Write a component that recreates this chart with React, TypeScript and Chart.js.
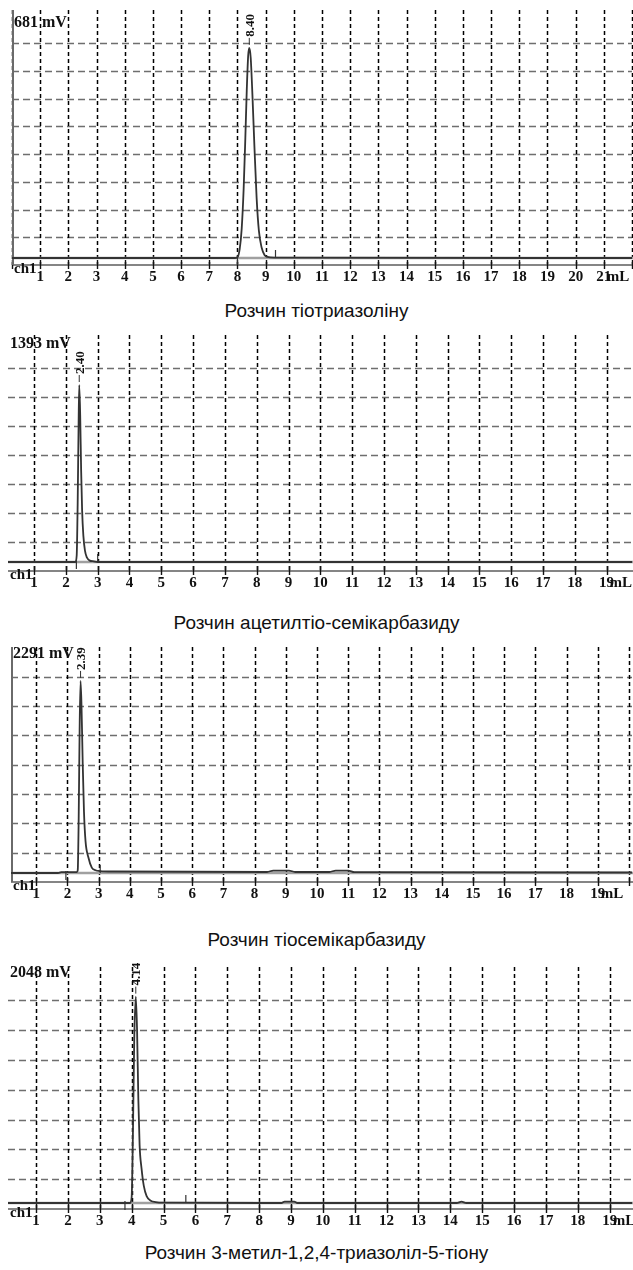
import React, { useEffect, useRef } from "react";
import { Chart, registerables } from "chart.js";

Chart.register(...registerables);

// ---------- DATA ----------
// Chart 1: Розчин тіотриазоліну (retention, mL / signal, mV)
const c1Times = [0, 7.9, 8.0, 8.08, 8.15, 8.22, 8.28, 8.33, 8.38, 8.42, 8.47, 8.53, 8.6, 8.68, 8.76, 8.86, 8.96, 9.06, 9.3, 22];
const c1Signal = [0, 0, 2, 25, 80, 190, 330, 460, 555, 577, 550, 450, 310, 165, 75, 28, 8, 3, 1, 0];

// Chart 2: Розчин ацетилтіо-семікарбазиду
const c2Times = [0.18, 2.3, 2.34, 2.37, 2.4, 2.42, 2.45, 2.48, 2.51, 2.55, 2.6, 2.66, 2.74, 2.88, 3.0, 19.8];
const c2Signal = [0, 0, 40, 350, 850, 1086, 900, 560, 320, 160, 70, 28, 10, 4, 0, 0];

// Chart 3: Розчин тіосемікарбазиду
const c3Times = [0.19, 1.7, 1.8, 2.3, 2.33, 2.36, 2.39, 2.42, 2.45, 2.49, 2.53, 2.58, 2.67, 2.78, 2.9, 3.05, 3.5, 8.4, 8.6, 9.1, 9.3, 10.4, 10.6, 11.0, 11.2, 20.1];
const c3Signal = [0, 0, 8, 8, 30, 550, 1450, 1947, 1700, 1100, 620, 320, 160, 55, 28, 20, 15, 10, 25, 25, 10, 10, 25, 25, 8, 5];

// Chart 4: Розчин 3-метил-1,2,4-триазоліл-5-тіону
const c4Times = [0.12, 3.95, 4.0, 4.04, 4.08, 4.13, 4.17, 4.21, 4.25, 4.31, 4.38, 4.47, 4.6, 4.75, 5.0, 8.7, 8.8, 9.1, 9.2, 14.2, 14.35, 14.5, 19.7];
const c4Signal = [0, 0, 50, 600, 1400, 1791, 1500, 900, 500, 300, 150, 60, 20, 8, 3, 0, 12, 12, 0, 0, 12, 0, 0];

const captions = [
  "Розчин тіотриазоліну",
  "Розчин ацетилтіо-семікарбазиду",
  "Розчин тіосемікарбазиду",
  "Розчин 3-метил-1,2,4-триазоліл-5-тіону",
];
const fullScaleLabels = ["681 mV", "1393 mV", "2291 mV", "2048 mV"];
const fullScaleValues = [681, 1393, 2291, 2048];
const peakLabels = ["8.40", "2.40", "2.39", "4.14"];
const peakStarts = [8.0, 2.33, 1.95, 3.79];
const peakEnds = [9.35, 3.0, 3.05, 5.7];
const xTicks21 = [1, 2, 3, 4, 5, 6, 7, 8, 9, 10, 11, 12, 13, 14, 15, 16, 17, 18, 19, 20, 21];
const xTicks19 = [1, 2, 3, 4, 5, 6, 7, 8, 9, 10, 11, 12, 13, 14, 15, 16, 17, 18, 19];
const xUnit = "mL";
const channelLabel = "ch1";

const seriesTimes = [c1Times, c2Times, c3Times, c4Times];
const seriesSignal = [c1Signal, c2Signal, c3Signal, c4Signal];
const seriesTicks = [xTicks21, xTicks19, xTicks19, xTicks19];

// ---------- LAYOUT (positions / styles) ----------
const layouts = [
  { top: 0, height: 292, plotTop: 10, axis: 265, base: 258, left: 12, right: 632, xMin: 0, xMax: 22, div: 9.2, gridCount: 8, leftAxis: true, labelDy: 17 },
  { top: 325, height: 272, plotTop: 335, axis: 571, base: 562, left: 8, right: 632, xMin: 0.18, xMax: 19.8, div: 8.14, gridCount: 7, leftAxis: false, labelDy: 13 },
  { top: 637, height: 271, plotTop: 647, axis: 882, base: 873, left: 11, right: 632, xMin: 0.19, xMax: 20.1, div: 8.02, gridCount: 7, leftAxis: true, labelDy: 11 },
  { top: 957, height: 278, plotTop: 967, axis: 1209, base: 1203, left: 8, right: 632, xMin: 0.12, xMax: 19.7, div: 8.12, gridCount: 7, leftAxis: false, labelDy: 10 },
];
const captionTops = [301, 613, 930, 1243];
const SERIF = '"Liberation Serif", "Times New Roman", "DejaVu Serif", serif';
const SANS = '"Liberation Sans", Arial, "DejaVu Sans", sans-serif';

function Chromatogram({ idx }: { idx: number }) {
  const ref = useRef<HTMLCanvasElement | null>(null);
  const L = layouts[idx];
  useEffect(() => {
    if (!ref.current) return;
    const full = fullScaleValues[idx];
    const mvPerPx = full / (L.base - L.plotTop);
    const yMin = -(L.axis - L.base) * mvPerPx;
    const yMax = full;
    const times = seriesTimes[idx];
    const sig = seriesSignal[idx];
    const ticks = seriesTicks[idx];
    let pk = 0;
    sig.forEach((v, i) => { if (v > sig[pk]) pk = i; });

    const plugin = {
      id: "chromGrid" + idx,
      beforeDatasetsDraw(chart: any) {
        const { ctx, chartArea: a, scales } = chart;
        const x = scales.x, y = scales.y;
        ctx.save();
        // horizontal dashed grid
        ctx.strokeStyle = "#6e6e6e";
        ctx.lineWidth = 1.6;
        ctx.setLineDash([7, 4]);
        for (let k = 1; k <= L.gridCount; k++) {
          const v = yMin + (k * (yMax - yMin)) / L.div;
          const py = Math.round(y.getPixelForValue(v)) + 0.5;
          ctx.beginPath();
          ctx.moveTo(a.left, py);
          ctx.lineTo(a.right, py);
          ctx.stroke();
        }
        // vertical dotted grid
        ctx.strokeStyle = "#000";
        ctx.lineWidth = 1.5;
        ctx.setLineDash([4, 3]);
        for (let i = Math.ceil(L.xMin); i <= Math.floor(L.xMax); i++) {
          const px = Math.round(x.getPixelForValue(i)) + 0.5;
          ctx.beginPath();
          ctx.moveTo(px, a.top);
          ctx.lineTo(px, a.bottom);
          ctx.stroke();
        }
        ctx.setLineDash([]);
        // baseline
        const y0 = y.getPixelForValue(0);
        ctx.strokeStyle = "#a0a0a0";
        ctx.lineWidth = 2.5;
        ctx.beginPath();
        ctx.moveTo(a.left, y0);
        ctx.lineTo(a.right + 1, y0);
        ctx.stroke();
        // axis line
        ctx.strokeStyle = "#858585";
        ctx.lineWidth = 2.2;
        ctx.beginPath();
        ctx.moveTo(a.left, a.bottom);
        ctx.lineTo(a.right + 1, a.bottom);
        ctx.stroke();
        // tick marks
        ctx.strokeStyle = "#111";
        ctx.lineWidth = 1.4;
        for (let i = Math.ceil(L.xMin); i <= Math.floor(L.xMax); i++) {
          const px = Math.round(x.getPixelForValue(i)) + 0.5;
          ctx.beginPath();
          ctx.moveTo(px, a.bottom - 5);
          ctx.lineTo(px, a.bottom + 4);
          ctx.stroke();
        }
        // left axis
        if (L.leftAxis) {
          ctx.strokeStyle = "#6a6a6a";
          ctx.lineWidth = 2;
          ctx.beginPath();
          ctx.moveTo(a.left + 1, a.top);
          ctx.lineTo(a.left + 1, a.bottom);
          ctx.stroke();
        }
        // peak start / end markers
        ctx.strokeStyle = "#333";
        ctx.lineWidth = 1.2;
        const ps = x.getPixelForValue(peakStarts[idx]);
        ctx.beginPath();
        ctx.moveTo(ps, y0 - 2);
        ctx.lineTo(ps, y0 + 7);
        ctx.stroke();
        const pe = x.getPixelForValue(peakEnds[idx]);
        ctx.beginPath();
        ctx.moveTo(pe, y0 - 8);
        ctx.lineTo(pe, y0);
        ctx.stroke();
        ctx.restore();
      },
      afterDraw(chart: any) {
        const { ctx, chartArea: a, scales } = chart;
        const x = scales.x, y = scales.y;
        ctx.save();
        ctx.fillStyle = "#111";
        ctx.textBaseline = "alphabetic";
        ctx.textAlign = "left";
        ctx.font = `bold 16px ${SERIF}`;
        ctx.fillText(fullScaleLabels[idx], a.left + 2, a.top + L.labelDy);
        ctx.font = `bold 15px ${SERIF}`;
        ctx.fillText(channelLabel, a.left + 2, a.bottom + 8);
        ticks.forEach((t, i) => {
          const px = x.getPixelForValue(t);
          ctx.textAlign = "center";
          ctx.fillText(String(t), px, a.bottom + 16);
          if (i === ticks.length - 1) {
            ctx.textAlign = "left";
            ctx.fillText(xUnit, px + 3, a.bottom + 16);
          }
        });
        // peak label
        const px = x.getPixelForValue(times[pk]);
        const pt = y.getPixelForValue(sig[pk]);
        ctx.strokeStyle = "#333";
        ctx.lineWidth = 1;
        ctx.beginPath();
        ctx.moveTo(px, pt - 10);
        ctx.lineTo(px, pt - 3);
        ctx.stroke();
        ctx.translate(px + 1, pt - 11);
        ctx.rotate(-Math.PI / 2);
        ctx.font = `bold 13px ${SERIF}`;
        ctx.textAlign = "left";
        ctx.textBaseline = "middle";
        ctx.fillText(peakLabels[idx], 0, 0);
        ctx.restore();
      },
    };

    const chart = new Chart(ref.current, {
      type: "line",
      data: {
        datasets: [
          {
            data: times.map((t, i) => ({ x: t, y: sig[i] })),
            borderColor: "#333",
            borderWidth: 1.8,
            pointRadius: 0,
            fill: false,
            cubicInterpolationMode: "monotone",
          },
        ],
      },
      options: {
        animation: false,
        responsive: false,
        maintainAspectRatio: false,
        layout: {
          padding: {
            left: L.left,
            right: 633 - L.right,
            top: L.plotTop - L.top,
            bottom: L.top + L.height - L.axis,
          },
        },
        plugins: { legend: { display: false }, tooltip: { enabled: false }, title: { display: false } },
        scales: {
          x: { type: "linear", min: L.xMin, max: L.xMax, display: false },
          y: { type: "linear", min: yMin, max: yMax, display: false },
        },
      },
      plugins: [plugin],
    } as any);
    return () => chart.destroy();
  }, [idx]);

  return (
    <>
      <canvas
        ref={ref}
        width={633}
        height={L.height}
        style={{ position: "absolute", left: 0, top: L.top, width: 633, height: L.height }}
      />
      <div
        style={{
          position: "absolute",
          left: 0,
          top: captionTops[idx],
          width: 633,
          textAlign: "center",
          fontFamily: SANS,
          fontSize: 19,
          lineHeight: "19px",
          color: "#111",
          whiteSpace: "nowrap",
        }}
      >
        {captions[idx]}
      </div>
    </>
  );
}

export default function App() {
  return (
    <div style={{ position: "absolute", left: 0, top: 0, width: 633, height: 1270, background: "#fff", overflow: "hidden" }}>
      {[0, 1, 2, 3].map((i) => (
        <Chromatogram key={i} idx={i} />
      ))}
    </div>
  );
}
